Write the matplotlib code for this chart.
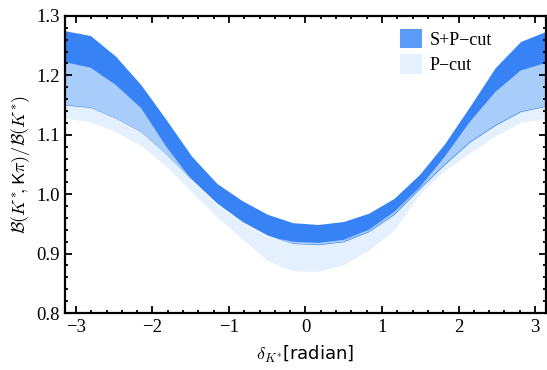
import matplotlib
matplotlib.use("Agg")
import matplotlib.pyplot as plt
import numpy as np
from matplotlib.patches import Patch
from matplotlib.ticker import MultipleLocator, FormatStrFormatter

# sample points in delta_K* (radian)
delta = np.linspace(-np.pi, np.pi, 20)

# S+P-cut band
sp_hi = [1.275, 1.267, 1.232, 1.184, 1.125, 1.064, 1.018, 0.989, 0.966, 0.952,
         0.949, 0.954, 0.968, 0.993, 1.033, 1.085, 1.148, 1.213, 1.257, 1.274]
sp_lo = [1.150, 1.146, 1.128, 1.105, 1.067, 1.025, 0.985, 0.954, 0.931, 0.917,
         0.915, 0.920, 0.937, 0.966, 1.009, 1.050, 1.088, 1.116, 1.139, 1.148]

# P-cut band
p_hi = [1.222, 1.213, 1.184, 1.145, 1.080, 1.024, 0.982, 0.952, 0.929, 0.920,
        0.918, 0.923, 0.940, 0.970, 1.011, 1.063, 1.122, 1.172, 1.208, 1.221]
p_lo = [1.128, 1.122, 1.105, 1.082, 1.047, 1.004, 0.962, 0.925, 0.888, 0.871,
        0.870, 0.881, 0.906, 0.940, 1.000, 1.040, 1.070, 1.098, 1.121, 1.128]

labels = ["S+P\u2212cut", "P\u2212cut"]

c_dark = "#3783f6"
c_mid = "#a9cdfb"
c_light = "#e4f0fd"
c_leg = "#5b9bf8"

plt.rcParams["mathtext.fontset"] = "cm"
serif = "Liberation Serif"

fig = plt.figure(figsize=(5.47, 3.70), dpi=100)
ax = fig.add_axes([0.119, 0.154, 0.879, 0.803])

sp_hi, sp_lo, p_hi, p_lo = map(np.asarray, (sp_hi, sp_lo, p_hi, p_lo))
ax.fill_between(delta, p_lo, p_hi, color=c_light, lw=0)
ax.fill_between(delta, sp_lo, sp_hi, color=c_dark, lw=0)
ov_lo = np.maximum(sp_lo, p_lo)
ov_hi = np.minimum(sp_hi, p_hi)
ax.fill_between(delta, ov_lo, ov_hi, where=ov_hi > ov_lo, interpolate=True,
                color=c_mid, lw=0)

ax.set_xlim(-np.pi, np.pi)
ax.set_ylim(0.8, 1.3)

ax.xaxis.set_major_locator(MultipleLocator(1))
ax.xaxis.set_minor_locator(MultipleLocator(0.2))
ax.yaxis.set_major_locator(MultipleLocator(0.1))
ax.yaxis.set_minor_locator(MultipleLocator(0.02))
ax.yaxis.set_major_formatter(FormatStrFormatter("%.1f"))
ax.tick_params(which="both", direction="in", top=True, right=True, width=1.3)
ax.tick_params(which="major", length=5, labelsize=13.5, pad=4)
ax.tick_params(which="minor", length=2.5)
for lab in ax.get_xticklabels() + ax.get_yticklabels():
    lab.set_fontfamily(serif)
for sp in ax.spines.values():
    sp.set_linewidth(1.6)

ax.set_xlabel(r"$\delta_{K^{*}}$[radian]", fontsize=13, labelpad=6)
ax.set_ylabel(r"$\mathcal{B}(K^{*}\!,\mathsf{K}\pi)/\mathcal{B}(K^{*})$",
              fontsize=13, labelpad=3)

handles = [Patch(facecolor=c_leg, lw=0), Patch(facecolor=c_light, lw=0)]
ax.legend(handles, labels, loc="upper left", bbox_to_anchor=(0.697, 0.957),
          frameon=False, prop={"family": serif, "size": 13},
          handlelength=1.22, handleheight=1.3, handletextpad=0.4,
          labelspacing=0.3, borderpad=0, borderaxespad=0)

fig.savefig("out.png", dpi=100)
